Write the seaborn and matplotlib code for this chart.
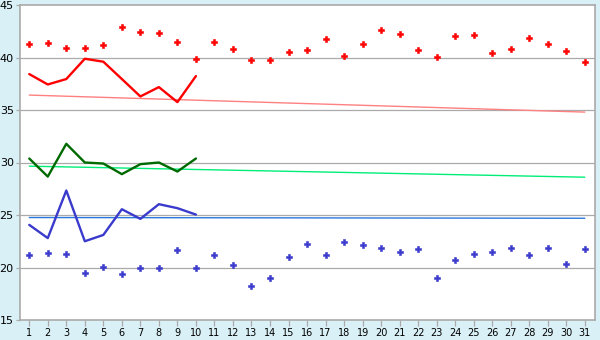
import matplotlib
matplotlib.use("Agg")
import matplotlib.pyplot as plt
import seaborn as sns
import pandas as pd

days = list(range(1, 32))
max_pts = [41.3, 41.35, 40.9, 40.9, 41.2, 42.9, 42.45, 42.35, 41.45, 39.9,
           41.47, 40.8, 39.75, 39.75, 40.5, 40.7, 41.75, 40.15, 41.3, 42.6,
           42.25, 40.7, 40.05, 42.05, 42.15, 40.4, 40.8, 41.85, 41.3, 40.6, 39.55]
min_pts = [21.17, 21.36, 21.29, 19.45, 20.02, 19.36, 20.0, 20.0, 21.64, 20.0,
           21.17, 20.2, 18.2, 18.97, 20.97, 22.2, 21.17, 22.4, 22.1, 21.83,
           21.45, 21.74, 18.97, 20.69, 21.26, 21.45, 21.83, 21.17, 21.83, 20.31, 21.74]
line_days = list(range(1, 11))
red_line = [38.42, 37.43, 37.95, 39.88, 39.6, 37.95, 36.29, 37.18, 35.75, 38.23]
green_line = [30.38, 28.66, 31.78, 30.0, 29.9, 28.89, 29.84, 30.0, 29.14, 30.38]
blue_line = [24.06, 22.8, 27.33, 22.5, 23.1, 25.55, 24.63, 26.03, 25.65, 25.04]
trend_days = [1, 31]
red_trend = [36.42, 34.8]
green_trend = [29.65, 28.6]
blue_trend = [24.76, 24.69]

sns.set_theme(style="white")
plt.rcParams['font.family'] = ['DejaVu Sans']

bg = '#d9f0f6'
grid_c = '#aaaaaa'
fig = plt.figure(figsize=(6, 3.4), dpi=100, facecolor=bg)
ax = fig.add_axes([20/600, 1-320/340, 575/600, 315/340])
ax.set_facecolor('white')

for yv in [20, 25, 30, 35, 40]:
    ax.axhline(yv, color=grid_c, lw=0.9, zorder=0)

sns.lineplot(x=trend_days, y=red_trend, ax=ax, color='#ff8080', lw=1.0)
sns.lineplot(x=trend_days, y=green_trend, ax=ax, color='#00ee77', lw=1.0)
sns.lineplot(x=trend_days, y=blue_trend, ax=ax, color='#2a78dc', lw=1.0)

sns.lineplot(x=line_days, y=red_line, ax=ax, color='#ff0000', lw=1.7)
sns.lineplot(x=line_days, y=green_line, ax=ax, color='#006a00', lw=1.7)
sns.lineplot(x=line_days, y=blue_line, ax=ax, color='#3a3acc', lw=1.7)

sns.scatterplot(x=days, y=max_pts, ax=ax, color='#ff0000', marker='P', s=22,
                edgecolor='#ff0000', linewidth=0.4)
sns.scatterplot(x=days, y=min_pts, ax=ax, color='#3a3acc', marker='P', s=18,
                edgecolor='#3a3acc', linewidth=0.4)

ax.set_xlim(0.5, 31.55)
ax.set_ylim(15, 45)
ax.set_xticks(days)
ax.set_xticklabels([str(d) for d in days], fontsize=7)
ax.set_yticks([15, 20, 25, 30, 35, 40, 45])
ax.set_yticklabels(['15', '20', '25', '30', '35', '40', '45'], fontsize=8)
ax.tick_params(axis='x', direction='out', length=4, width=0.9, color=grid_c,
               pad=2, labelcolor='black', bottom=True)
ax.tick_params(axis='y', direction='out', length=3, width=0.9, color=grid_c,
               pad=1.5, labelcolor='black', left=True)
for s in ax.spines.values():
    s.set_color(grid_c)
    s.set_linewidth(1.2)
ax.set_xlabel('')
ax.set_ylabel('')

fig.savefig('out.png', dpi=100, facecolor=bg)
